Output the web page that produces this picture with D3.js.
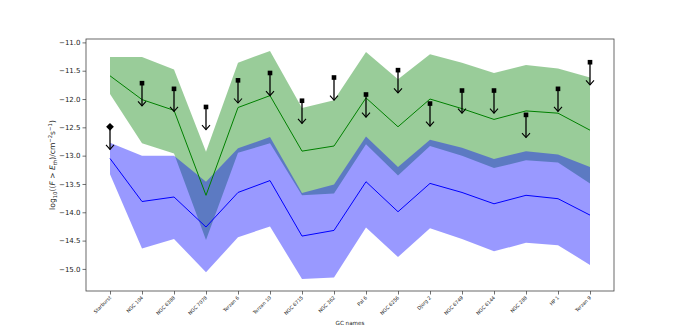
<!DOCTYPE html>
<html>
<head>
<meta charset="utf-8">
<script src="https://cdn.jsdelivr.net/npm/d3@7"></script>
<style>
  body { margin: 0; background: #fff; }
  text { font-family: "DejaVu Sans", sans-serif; }
</style>
</head>
<body>
<div id="chart"></div>
<script>
var names = ["Starburst", "NGC 104", "NGC 6388", "NGC 7078", "Terzan 6", "Terzan 10", "NGC 6715", "NGC 362",
    "Pal 6", "NGC 6256", "Djorg 2", "NGC 6749", "NGC 6144", "NGC 288", "HP 1", "Terzan 9"];

// green band (upper curve)
var greenMean = [-11.59, -12.01, -12.2, -13.7, -12.15, -11.94, -12.92, -12.83, -11.98, -12.49, -12.0, -12.17, -12.36, -12.21, -12.25, -12.55];
var greenHigh = [-11.26, -11.26, -11.48, -12.93, -11.36, -11.15, -12.16, -12.02, -11.17, -11.65, -11.21, -11.36, -11.54, -11.40, -11.46, -11.62];
var greenLow  = [-11.91, -12.78, -12.96, -14.49, -12.95, -12.78, -13.7, -13.67, -12.8, -13.35, -12.83, -13.0, -13.22, -13.08, -13.12, -13.49];

// blue band (lower curve)
var blueMean = [-13.05, -13.81, -13.73, -14.26, -13.65, -13.44, -14.42, -14.32, -13.46, -13.99, -13.49, -13.65, -13.85, -13.70, -13.76, -14.05];
var blueHigh = [-12.77, -13.0, -13.0, -13.46, -12.87, -12.67, -13.66, -13.51, -12.66, -13.2, -12.72, -12.86, -13.06, -12.92, -12.98, -13.2];
var blueLow  = [-13.33, -14.64, -14.47, -15.06, -14.44, -14.25, -15.18, -15.15, -14.27, -14.79, -14.28, -14.47, -14.69, -14.54, -14.58, -14.93];

// upper limits (first one is the stacking result, drawn as a diamond)
var limits = [-12.49, -11.72, -11.82, -12.14, -11.67, -11.54, -12.03, -11.62, -11.92, -11.49, -12.08, -11.85, -11.85, -12.28, -11.82, -11.35];
var arrowLen = 0.4;

var yTicks = d3.range(-11, -15.01, -0.5);

var width = 683, height = 327;
var svg = d3.select("#chart").append("svg")
    .attr("width", width)
    .attr("height", height);

svg.append("rect").attr("width", width).attr("height", height).attr("fill", "#fff");

var x = d3.scalePoint().domain(names).range([86, 614]).padding(0.75);
var y = d3.scaleLinear().domain([-10.94, -15.39]).range([39, 291]);

var rows = names.map(function(n, i) {
    return {name: n, gm: greenMean[i], gh: greenHigh[i], gl: greenLow[i],
            bm: blueMean[i], bh: blueHigh[i], bl: blueLow[i], lim: limits[i]};
});

var greenArea = d3.area().x(function(d) { return x(d.name); })
    .y0(function(d) { return y(d.gl); }).y1(function(d) { return y(d.gh); });
var blueArea = d3.area().x(function(d) { return x(d.name); })
    .y0(function(d) { return y(d.bl); }).y1(function(d) { return y(d.bh); });

svg.append("path").datum(rows).attr("d", greenArea)
    .attr("fill", "green").attr("fill-opacity", 0.4);
svg.append("path").datum(rows).attr("d", blueArea)
    .attr("fill", "blue").attr("fill-opacity", 0.4);

svg.append("path").datum(rows)
    .attr("d", d3.line().x(function(d) { return x(d.name); }).y(function(d) { return y(d.gm); }))
    .attr("fill", "none").attr("stroke", "green").attr("stroke-width", 1);
svg.append("path").datum(rows)
    .attr("d", d3.line().x(function(d) { return x(d.name); }).y(function(d) { return y(d.bm); }))
    .attr("fill", "none").attr("stroke", "blue").attr("stroke-width", 1);

// arrows
var arrows = svg.append("g");
rows.forEach(function(d, i) {
    var cx = x(d.name), y0 = y(d.lim), y1 = y(d.lim - arrowLen);
    arrows.append("line").attr("x1", cx).attr("x2", cx).attr("y1", y0).attr("y2", y1)
        .attr("stroke", "#000").attr("stroke-width", 1.3);
    arrows.append("path")
        .attr("d", "M" + (cx - 4) + "," + (y1 - 4.5) + "L" + cx + "," + y1 + "L" + (cx + 4) + "," + (y1 - 4.5))
        .attr("fill", "none").attr("stroke", "#000").attr("stroke-width", 1.1);
    if (i === 0) {
        arrows.append("path")
            .attr("d", d3.symbol().type(d3.symbolDiamond2).size(38)())
            .attr("transform", "translate(" + cx + "," + y0 + ")")
            .attr("fill", "#000");
    } else {
        arrows.append("rect").attr("x", cx - 2.3).attr("y", y0 - 2.3)
            .attr("width", 4.6).attr("height", 4.6).attr("fill", "#000");
    }
});

// axes
var yAxis = svg.append("g").attr("transform", "translate(86,0)")
    .call(d3.axisLeft(y).tickValues(yTicks).tickFormat(d3.format(".1f")).tickSize(3.5).tickPadding(2));
yAxis.select(".domain").remove();
yAxis.selectAll("line").attr("stroke", "#333").attr("stroke-width", 0.7);
yAxis.selectAll("text").attr("font-size", 7).attr("fill", "#222").attr("font-family", "DejaVu Sans");

var xAxis = svg.append("g").attr("transform", "translate(0,291)")
    .call(d3.axisBottom(x).tickSize(3.5).tickPadding(2));
xAxis.select(".domain").remove();
xAxis.selectAll("line").attr("stroke", "#333").attr("stroke-width", 0.7);
xAxis.selectAll("text")
    .attr("font-size", 4.8).attr("fill", "#222").attr("font-family", "DejaVu Sans")
    .attr("text-anchor", "end").attr("dy", null).attr("y", 0)
    .attr("transform", "translate(1,7) rotate(-45)");

svg.append("rect").attr("x", 86).attr("y", 39).attr("width", 528).attr("height", 252)
    .attr("fill", "none").attr("stroke", "#444").attr("stroke-width", 0.8);

// labels
svg.append("text").attr("x", 350).attr("y", 325).attr("text-anchor", "middle")
    .attr("font-size", 5.6).attr("fill", "#222").text("GC names");

var yl = svg.append("text").attr("transform", "translate(55,165) rotate(-90)")
    .attr("text-anchor", "middle").attr("font-size", 7.6).attr("fill", "#222");
yl.append("tspan").text("log");
yl.append("tspan").attr("font-size", 5.3).attr("dy", 1.8).text("10");
yl.append("tspan").attr("dy", -1.8).text("((");
yl.append("tspan").attr("font-style", "italic").text("F");
yl.append("tspan").text(" > ");
yl.append("tspan").attr("font-style", "italic").text("E");
yl.append("tspan").attr("font-size", 5.3).attr("font-style", "italic").attr("dy", 1.8).text("th");
yl.append("tspan").attr("dy", -1.8).text(")/cm");
yl.append("tspan").attr("font-size", 5.3).attr("dy", -3).text("\u22122");
yl.append("tspan").attr("dy", 3).text("s");
yl.append("tspan").attr("font-size", 5.3).attr("dy", -3).text("\u22121");
yl.append("tspan").attr("dy", 3).text(")");
</script>
</body>
</html>
